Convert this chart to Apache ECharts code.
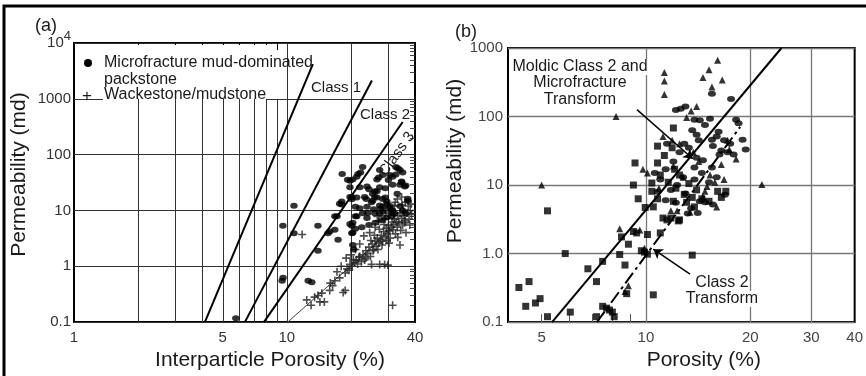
<!DOCTYPE html>
<html><head><meta charset="utf-8">
<script src="https://cdn.jsdelivr.net/npm/echarts@6/dist/echarts.min.js"></script>
<style>html,body{margin:0;padding:0;background:#fff}#c{width:866px;height:376px}</style>
</head><body><div id="c"></div>
<script>
// ---------- Panel (a) ----------
const aXTickValues = [1, 5, 10, 40];
const aYTickLabels = ['0.1', '1', '10', '100', '1000', '10{s|4}'];
const aMinorGridX = [2, 3, 4, 5, 6, 7, 8, 9];
const aMajorGridX = [10, 20, 30];
const aClass1Bound = [[4.12, 0.1], [13.25, 4170]];
const aClass2Bound = [[6.35, 0.1], [25.1, 2130]];
const aClass3Bound = [[7.8, 0.1], [35, 385]];
const aWackeLine = [[10.1, 0.1], [39.1, 10]];
const aMicrofracture = [
[5.76,0.117],[9.58,5.3],[9.6,0.62],[9.5,0.55],[10.8,12.2],[10.8,3.9],[12.6,0.55],[13.1,0.52],
[14.0,5.3],[14.0,1.9],[15.6,3.9],[15.9,4.2],[16.8,4.5],[17.4,3.0],[16.8,7.9],[17.2,7.9],
[18.2,45],[17.7,13.2],[18.1,12.8],[18.1,14.5],[19.3,35.6],[19.8,34],[19.8,26],[19.8,17.4],
[20.2,17.4],[20.2,15.8],[19.8,5.7],[20.2,5.3],[20.4,6],[20.4,4],[20.2,3.9],[20.4,2.4],[20.6,2.0],
[21.3,40],[21.6,45],[22.2,48],[22.7,60],[21.0,11.7],[21.0,7.9],[21.3,7.9],[21.0,4.7],[21.3,17],
[22,26],[22,11],[22.7,8.9],[20.4,36],[23.2,17.4],[23.6,16],[23.8,27],[24.3,24],[23.8,11.7],
[23.8,7.3],[24.3,5.5],[25,14],[25.3,20],[25.3,14.9],[25.6,10.5],[25.9,22],[26.5,22],[25.9,17.4],
[26.5,17],[25.9,8.9],[26.5,36],[27,39],[27.3,53],[27.3,26],[27.3,12.3],[27.6,11],[27.3,8.9],
[27.9,6.7],[28.2,43],[28.2,16],[28.2,11.7],[28.2,9.5],[29,17],[29.5,13],[29.5,14.5],[30.5,12],
[30.5,11],[30.5,43],[31.4,40],[31.4,29],[31.4,10],[31.4,9],[31,7.9],[32,8.9],[32.5,60],[33.2,57],
[34,53],[35,48],[34.6,33],[34,29],[34.6,32],[35.8,27],[36.2,28],[37,16.2],[37,15],[32.5,44],
[30,35],[29,25],[33,20],[34,12],[35,10],[36,9],[29.5,7.5],[26,6],[24,9],[22.5,5]
];
const aWackestone = [
[11.8,3.7],[12.4,0.25],[13.5,0.28],[14.3,0.23],[15,0.23],[14.6,0.33],[15.9,0.37],[16.4,0.45],
[16.8,0.55],[17.7,0.62],[18.4,0.34],[18.8,0.76],[18.8,0.37],[19.2,0.9],[19.6,0.85],[19.8,1.08],
[20.3,1.0],[20.5,1.3],[20.8,1.17],[21.2,1.3],[21.5,1.1],[21.8,1.45],[22.0,1.5],[22.4,1.21],
[22.8,1.6],[23.2,1.3],[23.5,1.9],[23.5,1.4],[24.0,1.7],[24.3,2.2],[24.7,1.5],[25,1.08],[25.2,2.5],
[25.4,1.9],[25.6,2.0],[26.0,2.8],[26.3,2.3],[26.6,3.2],[26.8,2.0],[27.0,2.6],[27.3,1.08],[27.5,3.0],
[27.8,3.6],[28.0,2.4],[28.2,2.8],[28.5,4.2],[28.8,1.08],[29.0,3.4],[29.3,4.8],[29.5,2.9],[29.8,1.05],
[29.6,3.9],[30.0,5.4],[30.3,4.3],[30.6,3.2],[30.9,5.0],[31.2,6.2],[31.4,0.2],[31.5,4.5],[31.8,5.6],
[32.1,7.0],[32.4,3.8],[32.7,6.3],[33.0,5.0],[33.3,8.0],[33.6,6.0],[34.0,2.4],[34.0,9.0],[34.3,4.4],
[34.6,7.2],[35.0,5.5],[35.3,10.0],[35.6,8.0],[36.0,6.5],[36.3,4.0],[36.8,9.0],[37.2,12],[37.5,7],
[38,10],[38.5,8.5],[33,16],[34.6,17.4],[36,14],[35.8,6],[23,3.5],[24.5,4.0],[26,5],[27,6.5],[28,8],
[29,7],[30,9],[31,10.5],[32,12],[22,2.5],[21,2.0],[20,1.6],[19,1.4],[18,1.0],[17.2,0.8],[16,0.5],
[14,0.3],[13,0.2],[33.2,3.3],[30.2,2.6],[28.6,5.6],[27.2,4.6],[25.8,3.6],[24.8,2.9],[31.8,8.2],
[29.2,9.8],[26.6,7.8],[37.8,5.5],[38.3,13],[32.3,14],[34.8,12.5]
];

// ---------- Panel (b) ----------
const bXTickValues = [5, 10, 20, 30, 40];
const bXMinorTicks = [5, 6, 7, 8, 9];
const bYTickLabels = ['0.1', '1.0', '10', '100', '1000'];
const bMajorGridX = [10, 20, 30];
const bMoldicTransform = [[5.36, 0.1], [24.6, 1000]];
const bClass2Transform = [[7.22, 0.1], [18.7, 70.6]];
const bMoldicArrow = [[9.42, 126], [13.65, 24.2]];
const bClass2Arrow = [[13.4, 0.50], [10.5, 1.16]];
const bSquares = [
[4.3,0.32],[4.6,0.39],[4.5,0.17],[4.8,0.19],[4.95,0.22],[5.2,4.2],[5.2,0.12],[5.85,1.0],[6.05,0.14],
[6.8,0.6],[7.2,0.39],[7.2,0.12],[7.5,0.17],[7.7,0.16],[7.5,0.77],[8.0,0.14],[8.1,0.12],[7.85,0.15],
[8.4,0.97],[8.5,1.75],[8.7,0.68],[8.8,0.26],[8.9,1.37],[9.2,2.1],[9.4,2.0],[9.2,10],[9.3,21],[9.5,6.3],
[10.1,1.9],[9.95,4.7],[10.4,10.7],[10.5,0.25],[10.4,8.1],[10.8,21],[10.8,37],[11.0,2.0],[11.2,3.3],
[12.0,68],[13.6,0.95],[16.1,8.1],[17.0,8.1],[16.5,6.6],[10.5,4.8],[10.8,6.3],[11.8,3.3],[12.5,3.1],
[11.9,35],[11.3,27],[12.1,17],[12.9,7.3],[13.1,5.6],[13.6,6.6],[12.5,14],[14.5,6.3],[15.2,5.8],
[12.4,3.0],[11.5,3.1],[9.7,1.1],[9.9,1.05],[10.1,0.98],[11.6,11],[12.2,9],[13.3,10.5],[14.0,8.5],
[11.0,14],[13.8,4.8],[12.0,5.8]
];
const bTriangles = [
[5.0,10],[8.2,100],[11.3,440],[11.3,330],[11.3,210],[16.1,660],[15.2,480],[14.6,370],[15.5,270],
[16.6,340],[21.6,10.2],[18.2,24],[8.9,0.34],[8.4,2.3],[11.8,4.2],[12.3,4.2],[13.1,97],[16.5,20],
[14.0,140],[11.2,51],[17.4,33],[15.0,9.5],[14.8,8.1],[13.4,4.0],[9.8,17],[10.1,15],[12.8,13],
[11.9,45],[12.5,40],[13.5,120],[15.8,11],[16.8,12],[14.2,22],[17.2,45],[10.9,9],[12.0,19],[13.7,30],
[15.3,14],[16.0,4.8],[14.6,6.8],[9.6,2.2],[9.9,1.2],[8.7,0.28]
];
const bOvals = [
[15.5,215],[17.6,180],[12.2,125],[12.6,130],[13.0,140],[14.3,88],[15.3,93],[13.6,63],[18.2,90],
[18.5,80],[16.0,51],[15.5,46],[19.0,46],[19.4,33],[15.6,37],[16.5,32],[12.9,40],[14.6,23],[15.5,18],
[13.8,18],[12.8,13],[13.2,3.85],[14.3,5.8],[14.8,5.6],[12.0,22],[11.4,17],[11.8,8.5],[12.3,10],
[13.0,7.5],[13.8,12],[14.5,15],[15.2,11],[16.0,13],[17.2,30],[16.8,45],[17.9,28],[12.2,5.5],
[13.5,4.6],[14.0,25],[11.0,12],[10.8,8],[11.4,6],[10.6,15],[12.5,30],[13.3,35],[14.2,45],[14.8,75],
[13.8,90],[16.3,28],[11.5,40],[16.9,7.2],[15.6,5.2],[14.1,3.9],[17.5,40],[16.2,60],[14.0,54]
];

// ---------- helpers ----------
const L = v => Math.log10(v);
const pts = a => a.map(p => [L(p[0]), L(p[1])]);
const FONT = '"Liberation Sans", Arial, Helvetica, sans-serif';
const vline = (x, y0, y1) => [{coord: [L(x), L(y0)]}, {coord: [L(x), L(y1)]}];
const seg = a => [{coord: [L(a[0][0]), L(a[0][1])]}, {coord: [L(a[1][0]), L(a[1][1])]}];
const rightMinor = [];
for (let n = -1; n < 4; n++) for (let k = 2; k < 10; k++) rightMinor.push(L(k * Math.pow(10, n)));
const CROSS = 'path://M4,0H6V4H10V6H6V10H4V6H0V4H4Z';
const noLine = {show: false, onZero: false};

const txt = (text, x, y, size, extra) => Object.assign({
  type: 'text', x: x, y: y, z: 20, silent: true,
  style: Object.assign({text: text, fontSize: size, fontFamily: FONT, fill: '#1a1a1a',
    align: 'left', verticalAlign: 'middle', textAlign: 'left', textVerticalAlign: 'middle'}, (extra && extra.style) || {})
}, extra ? {rotation: extra.rotation || 0} : {});

const chart = echarts.init(document.getElementById('c'));
const option = {
  animation: false,
  textStyle: {fontFamily: FONT},
  grid: [
    {left: 74, top: 43, width: 341, height: 290, show: true, borderColor: '#000', borderWidth: 2, backgroundColor: 'transparent'},
    {left: 508, top: 48, width: 347, height: 285, show: true, borderColor: '#000', borderWidth: 2, backgroundColor: 'transparent'}
  ],
  xAxis: [
    {gridIndex: 0, type: 'value', min: 0, max: L(40),
     axisLine: noLine, axisTick: {show: false}, splitLine: {show: false},
     axisLabel: {customValues: aXTickValues.map(L), formatter: v => String(Math.round(Math.pow(10, v))),
       fontSize: 15, color: '#333', margin: 8},
     name: 'Interparticle Porosity (%)', nameLocation: 'middle', nameGap: 18,
     nameTextStyle: {fontSize: 21, color: '#1a1a1a', padding: [0, 0, 0, 51]}},
    {gridIndex: 0, type: 'value', position: 'top', min: 0, max: L(40),
     axisLine: noLine, splitLine: {show: false}, axisLabel: {show: false},
     axisTick: {show: true, inside: true, length: 7, customValues: aMinorGridX.map(L), lineStyle: {color: '#000', width: 1}}},
    {gridIndex: 1, type: 'value', min: L(4), max: L(40),
     axisLine: noLine, splitLine: {show: false},
     axisTick: {show: true, inside: true, length: 8, customValues: bXMinorTicks.map(L), lineStyle: {color: '#555', width: 1}},
     axisLabel: {customValues: bXTickValues.map(L), formatter: v => String(Math.round(Math.pow(10, v))),
       fontSize: 15, color: '#444', margin: 8},
     name: 'Porosity (%)', nameLocation: 'middle', nameGap: 18,
     nameTextStyle: {fontSize: 21, color: '#1a1a1a', padding: [0, 0, 0, 45]}}
  ],
  yAxis: [
    {gridIndex: 0, type: 'value', min: -1, max: 4, interval: 1,
     axisLine: noLine, axisTick: {show: false},
     splitLine: {show: true, lineStyle: {color: '#333', width: 1}},
     axisLabel: {formatter: v => aYTickLabels[Math.round(v) + 1], fontSize: 15, color: '#333', margin: 3,
       rich: {s: {fontSize: 13, color: '#333', padding: [0, 0, 13, 0]}}},
     name: 'Permeability (md)', nameLocation: 'middle', nameGap: 44,
     nameTextStyle: {fontSize: 21, color: '#1a1a1a', padding: [0, 0, 0, 16]}},
    {gridIndex: 0, type: 'value', position: 'right', min: -1, max: 4,
     axisLine: noLine, splitLine: {show: false}, axisLabel: {show: false},
     axisTick: {show: true, inside: true, length: 5, customValues: rightMinor, lineStyle: {color: '#444', width: 1}}},
    {gridIndex: 1, type: 'value', min: -1, max: 3, interval: 1,
     axisLine: noLine, axisTick: {show: false},
     splitLine: {show: true, lineStyle: {color: '#777', width: 1.3}},
     axisLabel: {formatter: v => bYTickLabels[Math.round(v) + 1], fontSize: 15, color: '#444', margin: 5},
     name: 'Permeability (md)', nameLocation: 'middle', nameGap: 37,
     nameTextStyle: {fontSize: 21, color: '#1a1a1a', padding: [0, 0, 0, 48]}}
  ],
  series: [
    {type: 'line', xAxisIndex: 0, yAxisIndex: 0, data: [], silent: true, z: 1,
     markLine: {silent: true, symbol: 'none', z: 1, label: {show: false}, emphasis: {disabled: true},
       lineStyle: {color: '#333', width: 1, type: 'solid'},
       data: aMinorGridX.map(x => vline(x, 0.1, 1000)).concat(aMajorGridX.map(x => vline(x, 0.1, 1e4)))}},
    {name: 'Class boundary 1', type: 'line', xAxisIndex: 0, yAxisIndex: 0, data: pts(aClass1Bound), showSymbol: false, symbol: 'none', z: 3, lineStyle: {color: '#000', width: 2}},
    {name: 'Class boundary 2', type: 'line', xAxisIndex: 0, yAxisIndex: 0, data: pts(aClass2Bound), showSymbol: false, symbol: 'none', z: 3, lineStyle: {color: '#000', width: 2}},
    {name: 'Class boundary 3', type: 'line', xAxisIndex: 0, yAxisIndex: 0, data: pts(aClass3Bound), showSymbol: false, symbol: 'none', z: 3, lineStyle: {color: '#000', width: 2}},
    {name: 'Wackestone trend', type: 'line', xAxisIndex: 0, yAxisIndex: 0, data: pts(aWackeLine), showSymbol: false, symbol: 'none', z: 3, lineStyle: {color: '#444', width: 1}},
    {name: 'Wackestone/mudstone', type: 'scatter', xAxisIndex: 0, yAxisIndex: 0, data: pts(aWackestone), symbol: CROSS, symbolSize: 8, z: 4, itemStyle: {color: '#222'}},
    {name: 'Microfracture mud-dominated packstone', type: 'scatter', xAxisIndex: 0, yAxisIndex: 0, data: pts(aMicrofracture), symbol: 'circle', symbolSize: [7.5, 6], z: 5, itemStyle: {color: '#000'}},
    {type: 'line', xAxisIndex: 2, yAxisIndex: 2, data: [], silent: true, z: 1,
     markLine: {silent: true, symbol: 'none', z: 1, label: {show: false}, emphasis: {disabled: true},
       lineStyle: {color: '#777', width: 1.3, type: 'solid'},
       data: bMajorGridX.map(x => vline(x, 0.1, 1000))}},
    {name: 'Moldic Class 2 and Microfracture Transform', type: 'line', xAxisIndex: 2, yAxisIndex: 2, data: pts(bMoldicTransform), showSymbol: false, symbol: 'none', z: 3, lineStyle: {color: '#000', width: 2}},
    {name: 'Class 2 Transform', type: 'line', xAxisIndex: 2, yAxisIndex: 2, data: pts(bClass2Transform), showSymbol: false, symbol: 'none', z: 3, lineStyle: {color: '#000', width: 2, type: [13, 4, 3, 4]}},
    {name: 'Squares', type: 'scatter', xAxisIndex: 2, yAxisIndex: 2, data: pts(bSquares), symbol: 'rect', symbolSize: 7, z: 4, itemStyle: {color: '#000'}},
    {name: 'Triangles', type: 'scatter', xAxisIndex: 2, yAxisIndex: 2, data: pts(bTriangles), symbol: 'triangle', symbolSize: 7, z: 4, itemStyle: {color: '#000'}},
    {name: 'Ovals', type: 'scatter', xAxisIndex: 2, yAxisIndex: 2, data: pts(bOvals), symbol: 'circle', symbolSize: [8, 6], z: 4, itemStyle: {color: '#000'}},
    {type: 'line', xAxisIndex: 2, yAxisIndex: 2, data: [], silent: true, z: 6,
     markLine: {silent: true, z: 6, label: {show: false}, emphasis: {disabled: true},
       lineStyle: {color: '#000', width: 1.5, type: 'solid'},
       data: [seg(bMoldicArrow), seg(bClass2Arrow)],
       symbol: ['none', 'arrow'], symbolSize: 9}}
  ],
  graphic: [
    {type: 'polyline', z: 30, silent: true, shape: {points: [[4, 376], [4, 6], [866, 6]]}, style: {stroke: '#000', lineWidth: 3, fill: null}},
    {type: 'rect', z: 1, silent: true, shape: {x: 103, y: 45, width: 164, height: 58}, style: {fill: '#fff'}},
    txt('(a)', 35, 26, 18),
    {type: 'circle', z: 20, silent: true, shape: {cx: 88, cy: 63, r: 4}, style: {fill: '#000'}},
    txt('Microfracture mud-dominated', 104, 63, 16),
    txt('packstone', 104, 80, 16),
    txt('+', 82, 96, 17),
    txt('Wackestone/mudstone', 104, 95, 16),
    txt('Class 1', 311, 88, 15),
    txt('Class 2', 360, 115, 15),
    txt('Class 3', 397, 154, 15, {rotation: 0.95, style: {align: 'center', textAlign: 'center'}}),
    txt('(b)', 455, 32, 18),
    txt('Moldic Class 2 and', 580, 67, 16, {style: {align: 'center', textAlign: 'center', backgroundColor: '#fff'}}),
    txt('Microfracture', 580, 83, 16, {style: {align: 'center', textAlign: 'center', backgroundColor: '#fff'}}),
    txt('Transform', 580, 100, 16, {style: {align: 'center', textAlign: 'center', backgroundColor: '#fff'}}),
    txt('Class 2', 722, 283, 16, {style: {align: 'center', textAlign: 'center', backgroundColor: '#fff'}}),
    txt('Transform', 722, 299, 16, {style: {align: 'center', textAlign: 'center', backgroundColor: '#fff'}})
  ]
};
chart.setOption(option);
</script>
</body></html>
